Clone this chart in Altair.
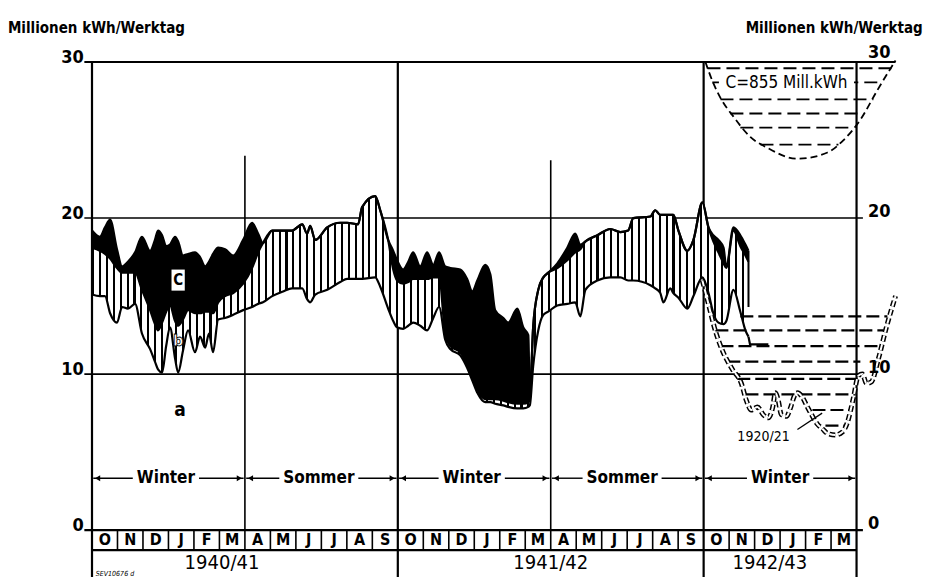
import altair as alt
import pandas as pd

# ---------------- data (x in months from 1 Oct 1940, y in Mio kWh/Werktag) ----------------
months = [0.00, 0.31, 0.51, 0.71, 0.98, 1.18, 1.41, 1.69, 1.96, 2.28,
          2.47, 2.59, 2.75, 2.91, 3.06, 3.26, 3.38, 3.57, 3.77, 4.04,
          4.24, 4.44, 4.59, 4.75, 4.95, 5.22, 5.54, 5.93, 6.28, 6.52,
          6.71, 7.07, 7.50, 7.85, 8.25, 8.44, 8.56, 8.76, 9.23, 9.74,
          10.01, 10.44, 10.60, 11.11, 11.31, 11.62, 11.82, 11.97, 12.21, 12.41,
          12.60, 12.88, 13.15, 13.39, 13.62, 13.86, 14.06, 14.45, 14.72, 14.92,
          15.12, 15.43, 15.63, 15.82, 16.14, 16.33, 16.69, 16.92, 17.12, 17.18,
          17.31, 17.51, 17.71, 17.90, 18.26, 18.65, 18.96, 19.16, 19.36, 19.83,
          20.34, 20.73, 21.04, 21.24, 21.91, 22.10, 22.30, 22.42, 22.69, 22.81,
          23.01, 23.36, 23.60, 23.95, 24.19, 24.38, 24.58, 24.78, 24.89, 25.17,
          25.44, 25.64, 25.76]
top = [19.2, 18.8, 19.4, 19.9, 18.0, 16.9, 17.2, 17.8, 18.8, 17.9,
       18.6, 19.2, 18.9, 18.2, 18.3, 18.8, 18.5, 17.6, 17.7, 17.8,
       17.5, 16.9, 17.2, 17.7, 18.1, 18.0, 17.6, 18.6, 19.7, 19.0,
       18.4, 19.2, 19.2, 19.2, 19.6, 19.0, 19.5, 18.6, 19.4, 19.7,
       19.7, 19.6, 20.7, 21.4, 20.5, 18.6, 17.9, 17.3, 16.7, 17.2,
       17.8, 16.9, 17.8, 17.0, 17.8, 16.9, 16.8, 16.7, 16.1, 15.3,
       16.0, 17.0, 16.4, 14.1, 13.6, 13.3, 14.2, 13.0, 12.5, 8.4,
       13.0, 15.4, 16.2, 16.5, 17.1, 18.1, 19.0, 18.3, 18.5, 18.9,
       19.3, 19.1, 19.2, 20.0, 20.1, 20.5, 20.2, 20.2, 20.2, 20.2,
       19.2, 17.9, 18.6, 21.0, 19.4, 18.9, 18.6, 18.1, 16.9, 19.4,
       18.9, 18.3, 17.9]
mid = [18.1, 17.9, 17.7, 17.4, 16.8, 16.5, 16.5, 16.5, 15.4, 14.1,
       13.2, 12.8, 13.3, 14.0, 14.4, 13.4, 13.1, 13.5, 14.1, 13.9,
       13.9, 14.0, 14.0, 13.9, 14.6, 15.0, 15.2, 15.8, 16.8, 17.8,
       18.4, 19.2, 19.2, 19.2, 19.6, 19.0, 19.5, 18.6, 19.4, 19.7,
       19.7, 19.6, 20.7, 21.4, 20.5, 18.6, 16.7, 16.0, 15.8, 15.9,
       16.1, 16.1, 16.1, 16.2, 16.2, 12.6, 11.8, 11.4, 10.6, 9.8,
       9.0, 8.4, 8.4, 8.4, 8.3, 8.2, 8.1, 8.1, 8.2, 8.4,
       13.0, 15.4, 16.2, 16.5, 16.8, 17.3, 17.8, 18.0, 18.5, 18.9,
       19.3, 19.1, 19.2, 20.0, 20.1, 20.5, 20.2, 20.2, 20.2, 20.2,
       19.2, 17.9, 18.6, 21.0, 19.4, 18.5, 17.8, 17.1, 16.8, 19.2,
       18.2, 17.6, 17.2]
bot = [15.1, 15.0, 15.0, 13.9, 13.3, 14.3, 14.2, 14.5, 12.6, 11.6,
       10.8, 10.3, 10.1, 11.8, 13.0, 11.0, 10.1, 11.5, 12.8, 11.4,
       12.4, 11.7, 12.6, 11.4, 13.5, 13.6, 13.8, 14.1, 14.3, 14.5,
       14.6, 15.0, 15.3, 15.5, 15.5, 14.8, 14.6, 15.1, 15.4, 15.9,
       16.1, 16.1, 16.1, 16.2, 15.6, 14.2, 13.4, 13.0, 12.9, 13.1,
       13.3, 13.1, 12.8, 13.6, 14.3, 12.2, 11.6, 11.2, 10.4, 9.6,
       8.8, 8.2, 8.2, 8.1, 8.0, 7.9, 7.8, 7.8, 7.9, 8.0,
       10.5, 12.8, 13.8, 14.0, 14.4, 14.5, 14.6, 13.7, 15.4, 16.0,
       16.2, 16.2, 16.0, 16.0, 15.7, 15.5, 15.2, 14.6, 15.5, 15.2,
       14.9, 14.2, 15.0, 16.2, 15.2, 13.9, 13.3, 13.2, 13.4, 15.4,
       14.0, 12.8, 12.4]

tail_m = [25.76, 25.82, 26.54]
tail_v = [12.4, 11.9, 11.9]

ref_m = [23.95, 24.22, 24.42, 24.74, 25.13, 25.48, 25.68, 25.87, 26.11, 26.34,
         26.54, 26.70, 26.82, 26.93, 27.05, 27.25, 27.40, 27.56, 27.68, 27.88,
         28.07, 28.27, 28.46, 28.66, 28.86, 29.17, 29.45, 29.64, 29.88, 30.07,
         30.23, 30.39, 30.58, 30.86, 31.17, 31.53]
ref_v = [16.0, 14.3, 13.0, 11.5, 10.3, 9.4, 8.3, 7.7, 7.9, 7.4,
         7.2, 7.8, 8.8, 8.3, 7.4, 7.3, 7.8, 8.6, 8.8, 8.5,
         7.9, 7.3, 6.8, 6.5, 6.2, 6.1, 6.3, 6.9, 8.5, 9.9,
         10.0, 9.4, 9.5, 11.0, 13.0, 15.0]

bowl_m = [24.07, 24.34, 24.66, 25.17, 25.83, 26.50, 27.68, 28.86, 29.49, 30.15, 30.82, 31.53]
bowl_v = [30.0, 28.8, 27.7, 26.5, 25.2, 24.5, 23.8, 24.2, 25.0, 26.3, 28.2, 30.1]
bowl_dash_v = [29.6, 28.7, 27.6, 26.7, 25.8, 24.7]
bowl_dash_m1 = [24.15, 24.34, 24.66, 25.05, 25.44, 26.23]
bowl_dash_m2 = [31.41, 31.03, 30.66, 30.27, 29.80, 29.29]

low_dash_v = [13.7, 12.8, 11.8, 10.8, 9.7, 8.7, 7.7, 6.7]
low_dash_m1 = [25.44, 24.46, 24.66, 24.93, 25.32, 25.64, 28.27, 28.78]
low_dash_m2 = [31.21, 31.06, 30.86, 30.15, 30.04, 29.96, 29.76, 29.56]

month_letters = list("ONDJFMAMJJAS") * 2 + list("ONDJFM")
years = ["1940/41", "1941/42", "1942/43"]
year_pos = [5.1, 18.0, 26.6]
seasons = ["Winter", "Sommer", "Winter", "Sommer", "Winter"]
season_bounds = [0, 6, 12, 18, 24, 30]
season_center = [2.9, 8.9, 14.9, 20.8, 27.0]
season_half = [1.3, 1.55, 1.3, 1.55, 1.3]
y_ticks = [0, 10, 20, 30]
right_labels = ["0", "10", "20", "30"]

FONT = "DejaVu Sans Condensed"

# ---------------- scales ----------------
XS = alt.Scale(domain=[0, 33], nice=False, zero=False)
YS = alt.Scale(domain=[-3, 30], nice=False, zero=False)


def X(f):
    return alt.X(f"{f}:Q", scale=XS, axis=None)


def Y(f):
    return alt.Y(f"{f}:Q", scale=YS, axis=None)


def hrules(rows, width=2.0, dash=None):
    df = pd.DataFrame(rows, columns=["y", "x1", "x2"])
    kw = dict(color="black", strokeWidth=width)
    if dash:
        kw["strokeDash"] = dash
    return alt.Chart(df).mark_rule(**kw).encode(x=X("x1"), x2=alt.X2("x2"), y=Y("y"))


def vrules(rows, width=2.0):
    df = pd.DataFrame(rows, columns=["x", "y1", "y2"])
    return alt.Chart(df).mark_rule(color="black", strokeWidth=width).encode(
        x=X("x"), y=Y("y1"), y2=alt.Y2("y2"))


def texts(rows, size=16, weight="bold", align="center", style="normal", color="black"):
    df = pd.DataFrame(rows, columns=["x", "y", "t"])
    return alt.Chart(df).mark_text(font=FONT, fontSize=size, fontWeight=weight,
                                   align=align, baseline="middle", fontStyle=style,
                                   color=color).encode(x=X("x"), y=Y("y"), text="t:N")


layers = []

# grid / frame
layers.append(hrules([(20, -0.3, 30.25), (10, -0.3, 30.25)], width=1.6))
layers.append(hrules([(30, -0.3, 31.53), (0, -0.3, 30.25), (-1.28, 0, 30)], width=2.2))
layers.append(vrules([(0, 30, -3), (12, 30, -3), (24, 30, -3), (30, 30, -3)], width=2.2))
layers.append(vrules([(6, 24.0, 0), (18, 23.7, 0)], width=1.6))
layers.append(vrules([(i, 0, -1.28) for i in range(1, 30) if i not in (12, 24)], width=1.6))

# main bands
band = pd.DataFrame({"m": months, "top": top, "mid": mid, "bot": bot})
N = 95
stops = []
for i in range(N):
    a = round(i / N, 5)
    b = round((i + 0.3) / N, 5)
    c = min(1.0, round((i + 1) / N, 5))
    stops += [alt.GradientStop(color="black", offset=a), alt.GradientStop(color="black", offset=b),
              alt.GradientStop(color="white", offset=b), alt.GradientStop(color="white", offset=c)]
hatch = alt.LinearGradient(gradient="linear", stops=stops, x1=0, x2=1, y1=0, y2=0)

layers.append(alt.Chart(band).mark_area(fill=hatch, interpolate="monotone").encode(
    x=X("m"), y=Y("bot"), y2=alt.Y2("mid")))
layers.append(alt.Chart(band).mark_area(color="black", interpolate="monotone").encode(
    x=X("m"), y=Y("top"), y2=alt.Y2("mid")))
for col in ["top", "mid", "bot"]:
    layers.append(alt.Chart(band).mark_line(color="black", strokeWidth=2.2, interpolate="monotone").encode(
        x=X("m"), y=Y(col)))
tail = pd.DataFrame({"m": tail_m, "v": tail_v})
layers.append(alt.Chart(tail).mark_line(color="black", strokeWidth=2.2).encode(x=X("m"), y=Y("v")))
layers.append(vrules([(25.76, 17.9, 14.3)], width=2.0))

# lower reservoir bowl
layers.append(hrules(list(zip(low_dash_v, low_dash_m1, low_dash_m2)), width=2.2, dash=[13, 5]))
ref = pd.DataFrame({"m": ref_m, "v": ref_v})
layers.append(alt.Chart(ref).mark_line(color="black", strokeWidth=5, strokeDash=[6, 3], interpolate="monotone").encode(
    x=X("m"), y=Y("v")))
layers.append(alt.Chart(ref).mark_line(color="white", strokeWidth=2, strokeDash=[6, 3], interpolate="monotone").encode(
    x=X("m"), y=Y("v")))

# upper reservoir bowl
bowl = pd.DataFrame({"m": bowl_m, "v": bowl_v})
layers.append(alt.Chart(bowl).mark_line(color="black", strokeWidth=1.8, strokeDash=[7, 4], interpolate="monotone").encode(
    x=X("m"), y=Y("v")))
layers.append(hrules(list(zip(bowl_dash_v, bowl_dash_m1, bowl_dash_m2)), width=1.8, dash=[13, 6]))
box = pd.DataFrame({"x1": [24.6, 3.12], "x2": [29.9, 3.64], "y1": [28.05, 15.35], "y2": [29.25, 16.7]})
layers.append(alt.Chart(box).mark_rect(color="white").encode(
    x=X("x1"), x2=alt.X2("x2"), y=Y("y1"), y2=alt.Y2("y2")))
layers.append(texts([(27.25, 28.65, "C=855 Mill.kWh")], size=17, weight="normal"))

# annotations in plot
layers.append(texts([(3.38, 16.0, "C")], size=15))
layers.append(alt.Chart(pd.DataFrame({"x": [3.38], "y": [12.1], "t": ["b"]})).mark_text(
    font=FONT, fontSize=16, fontWeight="bold", color="white", stroke="black", strokeWidth=0.8,
    baseline="middle").encode(x=X("x"), y=Y("y"), text="t:N"))
layers.append(texts([(3.45, 7.7, "a")], size=19))
layers.append(texts([(26.35, 5.95, "1920/21")], size=14, weight="normal"))
leader = pd.DataFrame({"m": [27.68, 28.65], "v": [6.45, 7.5]})
layers.append(alt.Chart(leader).mark_line(color="black", strokeWidth=1.3).encode(x=X("m"), y=Y("v")))

# season row
seg = []
heads_l, heads_r = [], []
for k in range(5):
    b0, b1, c, h = season_bounds[k], season_bounds[k + 1], season_center[k], season_half[k]
    seg += [(3.33, b0 + 0.05, c - h), (3.33, c + h, b1 - 0.05)]
    heads_l.append(b0 + 0.22)
    heads_r.append(b1 - 0.22)
layers.append(hrules(seg, width=1.4))
hl = pd.DataFrame({"x": heads_l, "y": [3.33] * 5})
hr = pd.DataFrame({"x": heads_r, "y": [3.33] * 5})
layers.append(alt.Chart(hl).mark_point(shape="triangle-left", filled=True, color="black", size=35, opacity=1).encode(
    x=X("x"), y=Y("y")))
layers.append(alt.Chart(hr).mark_point(shape="triangle-right", filled=True, color="black", size=35, opacity=1).encode(
    x=X("x"), y=Y("y")))
layers.append(texts(list(zip(season_center, [3.33] * 5, seasons)), size=17))

# month row and years
layers.append(texts([(i + 0.5, -0.64, m) for i, m in enumerate(month_letters)], size=16))
layers.append(texts(list(zip(year_pos, [-2.1] * 3, years)), size=20, weight="normal"))
layers.append(texts([(0.15, -2.78, "SEV10676 d")], size=7, weight="normal", align="left", style="italic"))

# axes labels
layers.append(texts([(-0.32, v + 0.28, str(v)) for v in y_ticks], size=18, align="right"))
layers.append(texts(list(zip([30.45] * 4, [0.4, 10.4, 20.4, 30.55], right_labels)), size=18, align="left"))
layers.append(texts([(-3.3, 32.2, "Millionen kWh/Werktag"), (25.65, 32.2, "Millionen kWh/Werktag")],
                    size=15, align="left"))

chart = alt.layer(*layers).properties(
    width=841, height=515,
    autosize=alt.AutoSizeParams(type="none"),
    padding={"left": 84, "top": 54, "right": 0, "bottom": 0},
).configure_view(stroke=None)

chart.save("out.html", embed_options={"renderer": "svg", "actions": False})
